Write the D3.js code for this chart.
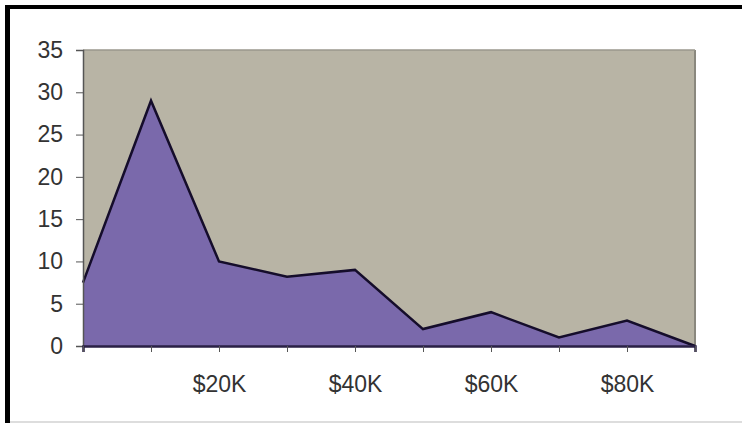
<!DOCTYPE html>
<html>
<head>
<meta charset="utf-8">
<script src="https://cdn.jsdelivr.net/npm/d3@7"></script>
<style>
  body { margin: 0; background: #fff; }
  svg { display: block; font-family: "Liberation Sans", Arial, sans-serif; }
</style>
</head>
<body>
<svg id="chart" width="742" height="428"></svg>
<script>
// income buckets (every $10K), only every other one gets a label
var categories = ["$0K", "$10K", "$20K", "$30K", "$40K", "$50K", "$60K", "$70K", "$80K", "$90K"];
var values = [7.5, 29, 10, 8.2, 9, 2, 4, 1, 3, 0];
var shownLabels = ["$20K", "$40K", "$60K", "$80K"];
var yTicks = [0, 5, 10, 15, 20, 25, 30, 35];

var svg = d3.select("#chart");

// outer frame: heavy black on left and top, faint on bottom
svg.append("rect").attr("x", 5).attr("y", 5).attr("width", 5).attr("height", 418).attr("fill", "#000");
svg.append("rect").attr("x", 5).attr("y", 5).attr("width", 737).attr("height", 4).attr("fill", "#000");
svg.append("rect").attr("x", 10).attr("y", 421).attr("width", 732).attr("height", 2).attr("fill", "#ddd");

// note: "top" is taken by window.top, so use other names
var plotL = 83, plotT = 50, plotR = 695, plotB = 346;

var x = d3.scalePoint()
    .domain(categories)
    .range([plotL, plotR]);
var y = d3.scaleLinear()
    .domain([0, 35])
    .range([plotB, plotT]);

// plot background
svg.append("rect")
    .attr("x", plotL).attr("y", plotT)
    .attr("width", plotR - plotL).attr("height", plotB - plotT)
    .attr("fill", "#b8b4a5");
svg.append("line")
    .attr("x1", plotR).attr("x2", plotR).attr("y1", plotT).attr("y2", plotB)
    .attr("stroke", "#8a887e").attr("stroke-width", 2);
svg.append("line")
    .attr("x1", plotL).attr("x2", plotR).attr("y1", plotT).attr("y2", plotT)
    .attr("stroke", "#9a978c").attr("stroke-width", 1.5);

var area = d3.area()
    .x(function(d, i) { return x(categories[i]); })
    .y0(y(0))
    .y1(function(d) { return y(d); });

var line = d3.line()
    .x(function(d, i) { return x(categories[i]); })
    .y(function(d) { return y(d); });

svg.append("path")
    .datum(values)
    .attr("d", area)
    .attr("fill", "#7a69ab");

svg.append("path")
    .datum(values)
    .attr("d", line)
    .attr("fill", "none")
    .attr("stroke", "#150d2b")
    .attr("stroke-width", 2.5)
    .attr("stroke-linejoin", "miter");

// y axis
var yAxis = svg.append("g")
    .attr("transform", "translate(" + plotL + ",0)")
    .call(d3.axisLeft(y).tickValues(yTicks).tickSize(7).tickPadding(13));
yAxis.select(".domain").attr("stroke", "#555").attr("stroke-width", 1.5);
yAxis.selectAll(".tick line").attr("stroke", "#555");
yAxis.selectAll("text").attr("fill", "#333").style("font-size", "23px")
    .style("font-family", "'Liberation Sans', Arial, sans-serif");

// x axis
var xAxis = svg.append("g")
    .attr("transform", "translate(0," + plotB + ")")
    .call(d3.axisBottom(x).tickSize(6).tickPadding(24)
        .tickFormat(function(d) { return shownLabels.indexOf(d) >= 0 ? d : ""; }));
xAxis.select(".domain").attr("stroke", "#2a2145").attr("stroke-width", 2.5);
xAxis.selectAll(".tick line").attr("stroke", "#555");
xAxis.selectAll("text").attr("fill", "#333").style("font-size", "23px")
    .style("font-family", "'Liberation Sans', Arial, sans-serif");
</script>
</body>
</html>
